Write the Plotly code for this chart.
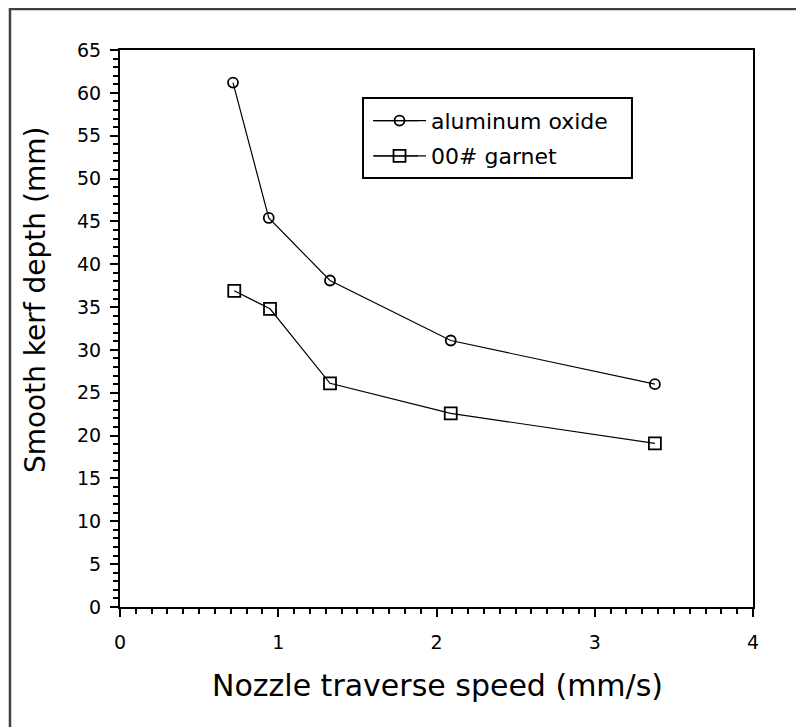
import plotly.graph_objects as go

speed_al = [0.714, 0.94, 1.327, 2.09, 3.38]
depth_al = [61.2, 45.4, 38.1, 31.1, 26.0]
speed_gt = [0.722, 0.948, 1.327, 2.09, 3.38]
depth_gt = [36.9, 34.8, 26.1, 22.6, 19.1]
names = ["aluminum oxide", "00# garnet"]
x_title = "Nozzle traverse speed (mm/s)"
y_title = "Smooth kerf depth (mm)"

font = "DejaVu Sans, Verdana, sans-serif"

fig = go.Figure()
fig.add_trace(go.Scatter(x=speed_al, y=depth_al, mode="lines+markers", name=names[0],
                         legend="legend",
                         line=dict(color="black", width=1.2),
                         marker=dict(symbol="circle-open", size=10, color="black", line=dict(width=1.8))))
fig.add_trace(go.Scatter(x=speed_gt, y=depth_gt, mode="lines+markers", name=names[1],
                         legend="legend2",
                         line=dict(color="black", width=1.2),
                         marker=dict(symbol="square-open", size=12, color="black", line=dict(width=1.8))))

leg_common = dict(xanchor="left", yanchor="middle", borderwidth=0, bgcolor="rgba(0,0,0,0)",
                  font=dict(size=22, family=font, color="black"), itemwidth=53)

# legend box and extended sample lines (paper coordinates)
lx0, lx1 = 0.3839, 0.8088
ly0, ly1 = 0.7702, 0.9138
row1, row2 = 0.873, 0.8097
sx0, sx1 = 0.4013, 0.4708
leg_x = 0.3918

fig.update_layout(
    width=804, height=727,
    margin=dict(l=112, r=59, t=42, b=128),
    paper_bgcolor="white", plot_bgcolor="white",
    font=dict(family=font, color="black"),
    showlegend=True,
    legend=dict(x=leg_x, y=row1, **leg_common),
    legend2=dict(x=leg_x, y=row2, **leg_common),
    shapes=[
        dict(type="rect", xref="paper", yref="paper", x0=-0.1738, y0=-1.0, x1=2.0, y1=1.0736,
             line=dict(color="#404040", width=2.5), fillcolor="rgba(0,0,0,0)", layer="below"),
        dict(type="rect", xref="paper", yref="paper", x0=lx0, y0=ly0, x1=lx1, y1=ly1,
             line=dict(color="black", width=2), fillcolor="white", layer="above"),
        dict(type="line", xref="paper", yref="paper", x0=sx0, x1=sx1, y0=row1, y1=row1,
             line=dict(color="black", width=1.2), layer="above"),
        dict(type="line", xref="paper", yref="paper", x0=sx0, x1=sx1, y0=row2, y1=row2,
             line=dict(color="black", width=1.2), layer="above"),
    ],
    annotations=[
        dict(text=x_title, xref="paper", yref="paper", x=0.5008, y=-0.1418,
             xanchor="center", yanchor="middle", showarrow=False,
             font=dict(size=30, family=font, color="black")),
        dict(text=y_title, xref="paper", yref="paper", x=-0.1343, y=0.551, textangle=-90,
             xanchor="center", yanchor="middle", showarrow=False,
             font=dict(size=28, family=font, color="black")),
    ],
)
fig.update_xaxes(range=[0, 4], dtick=1, tick0=0, showline=True, linecolor="black", linewidth=2,
                 mirror=True, ticks="outside", ticklen=8, tickwidth=2, tickcolor="black",
                 minor=dict(dtick=0.1, ticks="outside", ticklen=5, tickwidth=2, tickcolor="black"),
                 showgrid=False, zeroline=False, tickfont=dict(size=19), ticklabelstandoff=9,
                 automargin=False)
fig.update_yaxes(range=[0, 65], dtick=5, tick0=0, showline=True, linecolor="black", linewidth=2,
                 mirror=True, ticks="outside", ticklen=8, tickwidth=2, tickcolor="black",
                 minor=dict(dtick=1, ticks="outside", ticklen=5, tickwidth=2, tickcolor="black"),
                 showgrid=False, zeroline=False, tickfont=dict(size=19), ticklabelstandoff=5,
                 automargin=False)

fig.write_html("out.html")
